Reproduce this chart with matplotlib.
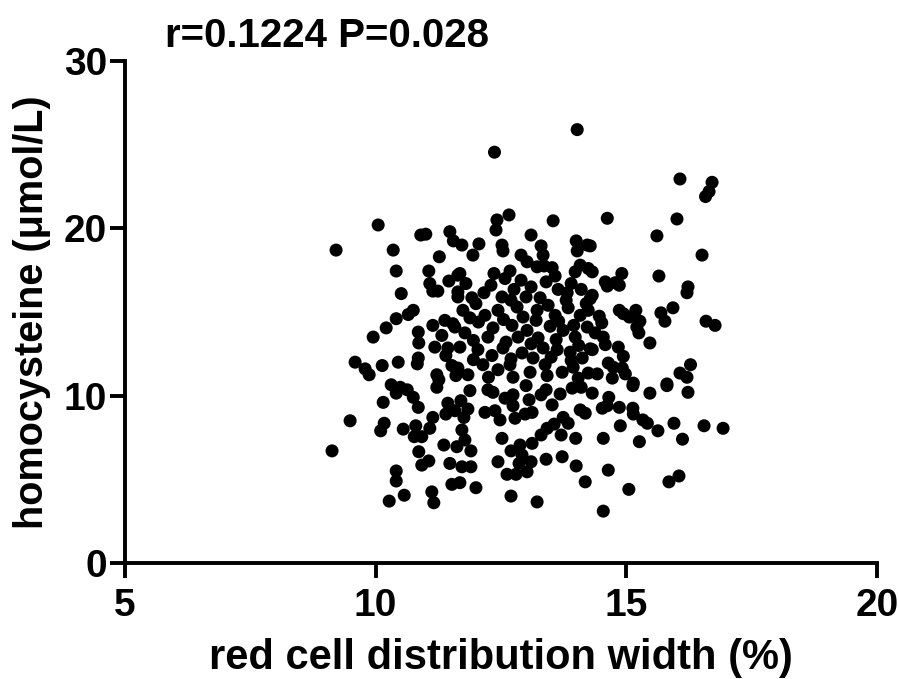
import matplotlib
matplotlib.use("Agg")
import matplotlib.pyplot as plt

# values (rdw %, homocysteine umol/L)
pts = [
    (14.02, 25.9), (12.37, 24.55), (16.07, 22.95), (16.71, 22.75), (16.65, 22.2), (16.58, 21.9),
    (14.62, 20.6), (16.01, 20.56), (15.61, 19.55), (14.28, 18.95), (16.51, 18.4),
    (10.05, 20.2), (10.9, 19.6), (11.0, 19.65), (11.48, 19.8), (11.55, 19.25), (9.21, 18.7),
    (10.35, 18.7), (11.27, 18.3), (12.66, 20.8), (12.42, 20.5), (12.40, 19.9), (13.54, 20.45),
    (13.1, 19.6), (14.0, 19.25), (14.22, 19.0), (11.72, 19.0), (12.06, 19.07), (12.52, 19.0),
    (12.54, 18.65), (13.3, 18.95), (11.94, 18.4), (12.9, 18.4), (13.34, 18.4), (14.02, 18.65),
    (13.02, 18.0), (13.36, 17.75), (14.08, 17.8), (14.24, 17.6),
    (10.41, 17.45), (11.06, 17.45), (11.64, 17.2), (11.46, 16.85), (11.08, 16.7), (11.14, 16.25),
    (11.24, 16.25), (10.51, 16.1), (11.64, 15.9), (10.65, 14.85), (10.75, 15.1), (10.41, 14.6),
    (10.21, 14.05), (9.95, 13.5), (11.38, 14.5), (11.14, 14.2), (11.54, 14.3), (10.85, 13.8),
    (11.32, 13.6), (10.86, 13.15), (11.18, 12.9), (11.44, 12.85), (11.4, 12.4), (10.85, 12.25),
    (10.83, 11.9), (9.59, 12.0), (9.79, 11.6), (9.87, 11.25), (10.13, 11.8), (10.45, 12.0),
    (11.52, 11.8), (11.6, 11.2), (11.22, 11.25), (11.26, 10.95), (10.31, 10.65), (10.49, 10.5),
    (11.22, 10.5),
    (10.41, 10.15), (10.63, 10.35), (10.75, 9.9), (10.85, 9.3), (10.15, 9.6), (11.44, 9.55),
    (11.4, 8.9), (11.58, 9.1), (9.49, 8.5), (10.17, 8.35), (10.1, 7.9), (10.55, 8.0), (10.8, 8.2),
    (11.14, 8.7), (11.08, 8.05), (10.77, 7.55), (10.92, 7.55), (9.13, 6.7), (10.86, 6.65),
    (11.36, 7.05), (11.62, 6.95), (11.06, 6.1), (10.92, 5.85), (11.48, 5.95), (10.41, 5.5),
    (10.41, 4.9), (11.52, 4.7), (10.57, 4.05), (10.27, 3.7), (11.12, 4.25), (11.16, 3.6),
    (11.88, 10.3), (11.7, 9.7), (11.84, 9.2), (11.76, 8.7), (12.18, 9.0), (12.38, 9.1),
    (12.48, 8.55), (12.24, 10.35), (12.34, 10.2), (12.58, 9.85), (12.74, 10.05), (12.74, 9.4),
    (13.0, 10.6), (13.06, 9.75), (13.3, 10.05), (13.4, 10.35), (13.52, 9.45), (12.78, 8.65),
    (12.98, 8.9), (13.12, 9.0), (13.68, 10.1), (13.92, 10.45), (14.1, 10.5), (14.32, 10.15),
    (14.08, 9.15), (14.18, 8.95), (13.74, 8.7), (13.84, 8.35), (13.56, 8.3), (13.42, 8.05),
    (13.3, 7.65), (13.7, 7.65), (13.99, 7.45), (13.12, 7.15), (12.52, 7.45), (11.72, 7.95),
    (11.78, 7.35), (11.9, 6.7), (12.7, 6.7), (12.88, 7.05), (12.92, 6.45), (12.86, 5.95),
    (13.1, 6.05), (13.02, 5.45), (12.8, 5.3), (12.62, 5.3), (12.44, 6.05), (13.4, 6.2),
    (13.72, 6.35), (14.0, 5.8), (14.18, 4.85), (11.72, 5.75), (11.9, 5.75), (11.68, 4.8),
    (12.0, 4.5), (12.7, 4.0), (13.22, 3.65),
    (14.65, 9.9), (15.13, 10.6), (15.47, 10.15), (15.81, 10.6), (16.23, 10.2), (14.52, 9.25),
    (14.62, 9.4), (14.86, 9.3), (15.13, 9.25), (15.14, 8.9), (15.33, 8.55), (15.42, 8.35),
    (14.88, 8.2), (15.63, 7.9), (15.95, 8.35), (16.55, 8.2), (16.93, 8.05), (14.54, 7.45),
    (15.26, 7.25), (16.12, 7.4), (14.64, 5.55), (15.85, 4.85), (16.05, 5.2), (15.05, 4.4),
    (14.54, 3.1),
    (14.32, 17.4), (14.91, 17.3), (14.58, 16.8), (14.62, 16.55), (14.78, 16.75), (14.86, 16.6),
    (15.65, 17.15), (16.23, 16.5), (16.21, 16.15), (14.28, 15.8), (14.86, 15.1), (14.94, 14.9),
    (15.06, 14.7), (15.19, 15.1), (15.27, 14.45), (15.21, 14.1), (15.25, 13.75), (15.69, 14.95),
    (15.77, 14.45), (15.93, 15.25), (16.59, 14.45), (16.77, 14.2), (14.46, 14.75), (14.51, 14.35),
    (14.38, 13.75), (14.54, 13.5), (14.58, 13.05), (14.28, 12.8), (14.84, 12.9), (15.47, 13.15),
    (14.94, 12.35), (14.64, 11.95), (14.74, 11.7), (14.92, 11.65), (14.98, 11.3), (14.42, 11.3),
    (14.72, 11.05), (15.14, 10.75), (16.28, 11.85), (16.07, 11.35), (16.21, 11.1), (15.81, 10.7),
    (11.68, 17.3), (12.36, 17.3), (12.58, 17.0), (12.68, 17.45), (13.22, 17.7), (13.52, 17.65),
    (13.58, 17.15), (13.98, 17.4),
    (11.64, 16.2), (11.92, 15.85), (12.16, 16.15), (12.52, 15.9), (12.76, 16.35), (13.1, 16.5),
    (13.28, 15.85), (13.64, 16.35), (13.82, 16.15), (14.1, 16.35), (14.32, 16.0),
    (11.74, 15.1), (11.88, 14.65), (12.18, 14.8), (12.44, 15.1), (12.82, 15.3), (12.94, 14.7),
    (13.22, 15.1), (13.44, 15.4), (13.58, 14.8), (13.84, 15.25), (14.08, 14.8), (14.24, 15.1),
    (11.58, 14.1), (11.78, 13.75), (12.24, 13.5), (12.34, 14.05), (12.72, 14.2), (12.84, 13.5),
    (13.02, 13.9), (13.24, 13.45), (13.48, 14.15), (13.74, 13.9), (13.98, 13.5), (14.22, 14.1),
    (11.68, 12.9), (12.04, 12.75), (12.32, 12.4), (12.54, 12.85), (12.92, 12.55), (13.14, 12.25),
    (13.34, 12.85), (13.62, 12.75), (13.88, 12.6), (14.12, 12.25), (14.32, 12.75),
    (11.64, 11.65), (11.84, 11.25), (12.14, 11.85), (12.44, 11.55), (12.68, 11.85), (12.74, 11.1),
    (13.08, 11.4), (13.38, 11.85), (13.42, 11.2), (13.72, 11.4), (13.94, 11.7), (14.04, 11.05),
    (14.24, 11.35),
    # extra points from the dense centre
    (11.8, 16.7), (12.3, 16.6), (12.9, 16.9), (13.4, 16.8), (13.9, 16.7),
    (12.0, 15.5), (12.7, 15.7), (13.0, 15.9), (13.8, 15.7), (14.2, 15.5),
    (12.05, 14.4), (12.55, 14.55), (13.2, 14.5), (13.65, 14.45), (13.95, 14.2),
    (11.95, 13.3), (12.6, 13.2), (13.1, 13.1), (13.6, 13.35), (14.05, 13.0),
    (11.95, 12.15), (12.7, 12.2), (13.5, 12.3), (13.9, 12.1), (12.25, 11.1),
]
rdw = [p[0] for p in pts]
hcy = [p[1] for p in pts]

x_ticks = [5, 10, 15, 20]
y_ticks = [0, 10, 20, 30]
title = "r=0.1224 P=0.028"

plt.rcParams['font.family'] = ['Liberation Sans', 'DejaVu Sans']
plt.rcParams['font.weight'] = 'bold'

fig = plt.figure(figsize=(8.99, 6.79), dpi=100)
ax = fig.add_axes([125 / 899, 1 - 563 / 679, 752 / 899, 502 / 679])

ax.scatter(rdw, hcy, s=88, color='black', edgecolors='none', zorder=3, clip_on=False)

ax.set_xlim(5, 20)
ax.set_ylim(0, 30)
ax.set_xticks(x_ticks)
ax.set_yticks(y_ticks)
ax.tick_params(length=11, width=2.8, labelsize=28)
ax.tick_params(axis='x', pad=7)
ax.tick_params(axis='y', pad=2)
for lab in ax.get_xticklabels() + ax.get_yticklabels():
    lab.set_fontweight('bold')

for s in ['top', 'right']:
    ax.spines[s].set_visible(False)
for s in ['left', 'bottom']:
    ax.spines[s].set_linewidth(2.8)

ax.set_xlabel("red cell distribution width (%)", fontsize=30, fontweight='bold', labelpad=10)
ax.set_ylabel("homocysteine (\u03bcmol/L)", fontsize=28.5, fontweight='bold', labelpad=9)

fig.text(165 / 899, 1 - 36 / 679, title, fontsize=29, fontweight='bold', va='center', ha='left')

fig.savefig("out.png", dpi=100)
